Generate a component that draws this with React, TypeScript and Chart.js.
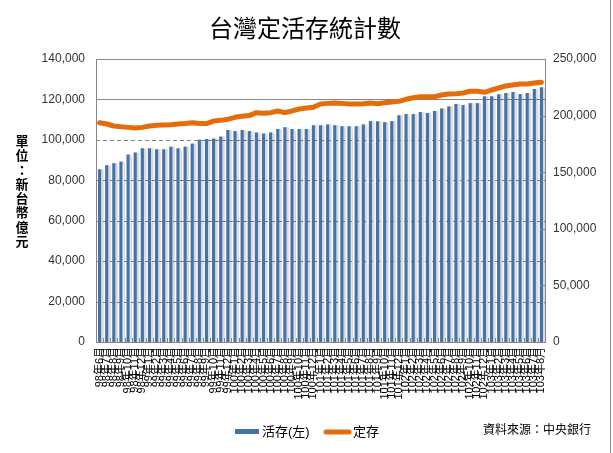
import { useEffect, useRef } from 'react';
import { Chart, registerables } from 'chart.js';

Chart.register(...registerables);

const titleText = '台灣定活存統計數';
const yAxisTitle = '單位：新台幣億元';
const sourceText = '資料來源：中央銀行';
const demandLabel = '活存(左)';
const timeLabel = '定存';

const months = [
  '98年6月', '98年7月', '98年8月', '98年9月', '98年10月', '98年11月', '98年12月',
  '99年1月', '99年2月', '99年3月', '99年4月', '99年5月', '99年6月', '99年7月', '99年8月', '99年9月', '99年10月', '99年11月', '99年12月',
  '100年1月', '100年2月', '100年3月', '100年4月', '100年5月', '100年6月', '100年7月', '100年8月', '100年9月', '100年10月', '100年11月', '100年12月',
  '101年1月', '101年2月', '101年3月', '101年4月', '101年5月', '101年6月', '101年7月', '101年8月', '101年9月', '101年10月', '101年11月', '101年12月',
  '102年1月', '102年2月', '102年3月', '102年4月', '102年5月', '102年6月', '102年7月', '102年8月', '102年9月', '102年10月', '102年11月', '102年12月',
  '103年1月', '103年2月', '103年3月', '103年4月', '103年5月', '103年6月', '103年7月', '103年8月',
];

// 活存 (left axis)
const demandDeposits = [
  85300, 87300, 88300, 89100, 92600, 93600, 95700, 95700, 95200, 95200,
  96500, 95700, 96500, 98000, 99900, 100200, 100500, 101500, 104700, 104200,
  104700, 104200, 103500, 103000, 103500, 105200, 106100, 105200, 105200, 105200,
  107100, 107100, 107500, 107100, 106600, 106600, 106600, 107500, 109100, 109100,
  108600, 109100, 112000, 112600, 112600, 113600, 113100, 114100, 115400, 116400,
  117600, 117100, 118000, 118000, 121400, 121400, 122400, 123000, 123500, 122500,
  123000, 125000, 125800,
];

// 定存 (right axis)
const timeDeposits = [
  193700, 192600, 190800, 190200, 189600, 189000, 189600, 190800, 191400, 191700,
  192000, 192600, 193000, 193700, 193000, 193000, 195200, 195800, 196700, 198500,
  199400, 200000, 202600, 202000, 202600, 204100, 202600, 204100, 205800, 206700,
  207300, 210200, 210800, 211100, 210800, 210200, 210200, 210500, 211100, 210500,
  211400, 212000, 212600, 214400, 215800, 216700, 216700, 216700, 218200, 219100,
  219400, 220000, 221500, 221500, 220600, 222600, 224400, 226200, 227000, 227900,
  227900, 228800, 229400,
];

const BLUE = '#4672aa';
const ORANGE = '#e46c0a';
const GRID = '#868686';
const CJK = '"Noto Sans CJK TC", "Noto Sans CJK SC", sans-serif';
const LATIN = '"Liberation Sans", "Noto Sans CJK TC", sans-serif';

const decorPlugin = {
  id: 'decor',
  beforeDatasetsDraw(chart: any) {
    const { ctx, chartArea, scales } = chart;
    const { left, right } = chartArea;
    const y = scales.y;
    ctx.save();
    ctx.strokeStyle = GRID;
    ctx.lineWidth = 1;
    y.ticks.forEach((t: any) => {
      if (t.value === 0) return;
      const py = Math.round(y.getPixelForValue(t.value)) + 0.5;
      ctx.setLineDash(t.value >= 120000 ? [] : [4, 3]);
      ctx.beginPath();
      ctx.moveTo(left, py);
      ctx.lineTo(right, py);
      ctx.stroke();
    });
    ctx.restore();
  },
  beforeDatasetDraw(chart: any, args: any) {
    if (args.index === 0) {
      const ctx = chart.ctx;
      ctx.save();
      ctx.shadowColor = 'rgba(0,0,0,0.16)';
      ctx.shadowOffsetX = 2.5;
      ctx.shadowOffsetY = 0;
      ctx.shadowBlur = 1.5;
    }
  },
  afterDatasetDraw(chart: any, args: any) {
    if (args.index === 0) chart.ctx.restore();
  },
  afterDraw(chart: any) {
    const { ctx, chartArea, scales, width, height } = chart;
    const { left, right, bottom } = chartArea;
    ctx.save();

    // inward tick marks on x axis (category boundaries)
    const x = scales.x;
    ctx.strokeStyle = GRID;
    ctx.lineWidth = 1;
    const n = months.length;
    const step = (right - left) / n;
    for (let i = 1; i < n; i++) {
      const px = Math.round(x.getPixelForValue(i) - step / 2) + 0.5;
      ctx.beginPath();
      ctx.moveTo(px, bottom - 4);
      ctx.lineTo(px, bottom);
      ctx.stroke();
    }
    // inward ticks on right axis
    const y2 = scales.y2;
    y2.ticks.forEach((t: any) => {
      const py = Math.round(y2.getPixelForValue(t.value)) + 0.5;
      ctx.beginPath();
      ctx.moveTo(right - 5, py);
      ctx.lineTo(right, py);
      ctx.stroke();
    });

    // title
    ctx.fillStyle = '#000';
    ctx.textAlign = 'center';
    ctx.textBaseline = 'middle';
    ctx.font = `24px ${CJK}`;
    ctx.fillText(titleText, 305, 28);

    // vertical axis title
    ctx.font = `bold 13px ${CJK}`;
    Array.from(yAxisTitle).forEach((ch, i) => {
      ctx.fillText(ch, 22, 141 + i * 14.3);
    });

    // legend
    ctx.fillStyle = BLUE;
    ctx.fillRect(235, 429, 24, 5);
    ctx.fillStyle = '#000';
    ctx.textAlign = 'left';
    ctx.font = `13px ${LATIN}`;
    ctx.fillText(demandLabel, 262, 432);
    ctx.strokeStyle = ORANGE;
    ctx.lineWidth = 5;
    ctx.lineCap = 'round';
    ctx.beginPath();
    ctx.moveTo(326, 432);
    ctx.lineTo(349, 432);
    ctx.stroke();
    ctx.fillText(timeLabel, 353, 432);

    ctx.font = `12px ${CJK}`;
    ctx.fillText(sourceText, 483, 429);

    // right edge of chart frame
    ctx.strokeStyle = GRID;
    ctx.lineWidth = 1;
    ctx.lineCap = 'butt';
    ctx.beginPath();
    ctx.moveTo(width - 2.5, 0);
    ctx.lineTo(width - 2.5, height);
    ctx.stroke();

    ctx.restore();
  },
};

export default function App() {
  const canvasRef = useRef<HTMLCanvasElement | null>(null);

  useEffect(() => {
    document.body.style.margin = '0';
    const canvas = canvasRef.current;
    if (!canvas) return;
    const chart = new Chart(canvas, {
      type: 'bar',
      data: {
        labels: months,
        datasets: [
          {
            type: 'bar',
            label: demandLabel,
            data: demandDeposits,
            backgroundColor: BLUE,
            barThickness: 2.5,
            yAxisID: 'y',
            order: 2,
          },
          {
            type: 'line',
            label: timeLabel,
            data: timeDeposits,
            borderColor: ORANGE,
            backgroundColor: ORANGE,
            borderWidth: 5,
            borderCapStyle: 'round',
            borderJoinStyle: 'round',
            pointRadius: 0,
            tension: 0,
            yAxisID: 'y2',
            order: 1,
          },
        ],
      } as any,
      plugins: [decorPlugin],
      options: {
        animation: false,
        responsive: true,
        maintainAspectRatio: false,
        layout: { padding: { top: 59, left: 0, right: 0, bottom: 0 } },
        plugins: {
          legend: { display: false },
          title: { display: false },
          tooltip: { enabled: false },
        },
        scales: {
          x: {
            grid: { display: false, drawTicks: false },
            border: { display: true, color: GRID },
            ticks: {
              autoSkip: false,
              maxRotation: 90,
              minRotation: 90,
              padding: 5,
              color: '#000',
              font: { family: LATIN, size: 11 },
            },
            afterFit: (s: any) => { s.height = 111; },
          },
          y: {
            position: 'left',
            min: 0,
            max: 140000,
            grid: { display: false, drawTicks: false },
            border: { display: true, color: GRID },
            ticks: {
              stepSize: 20000,
              padding: 11,
              color: '#333',
              font: { family: LATIN, size: 12 },
              callback: (v: any) => Number(v).toLocaleString('en-US'),
            },
            afterFit: (s: any) => { s.width = 96; },
          },
          y2: {
            position: 'right',
            min: 0,
            max: 250000,
            grid: { display: false, drawTicks: false },
            border: { display: true, color: GRID },
            ticks: {
              stepSize: 50000,
              padding: 8,
              color: '#333',
              font: { family: LATIN, size: 12 },
              callback: (v: any) => Number(v).toLocaleString('en-US'),
            },
            afterFit: (s: any) => { s.width = 68; },
          },
        },
      } as any,
    });
    return () => chart.destroy();
  }, []);

  return (
    <div style={{ width: 613, height: 453, position: 'relative' }}>
      <canvas ref={canvasRef} />
    </div>
  );
}
